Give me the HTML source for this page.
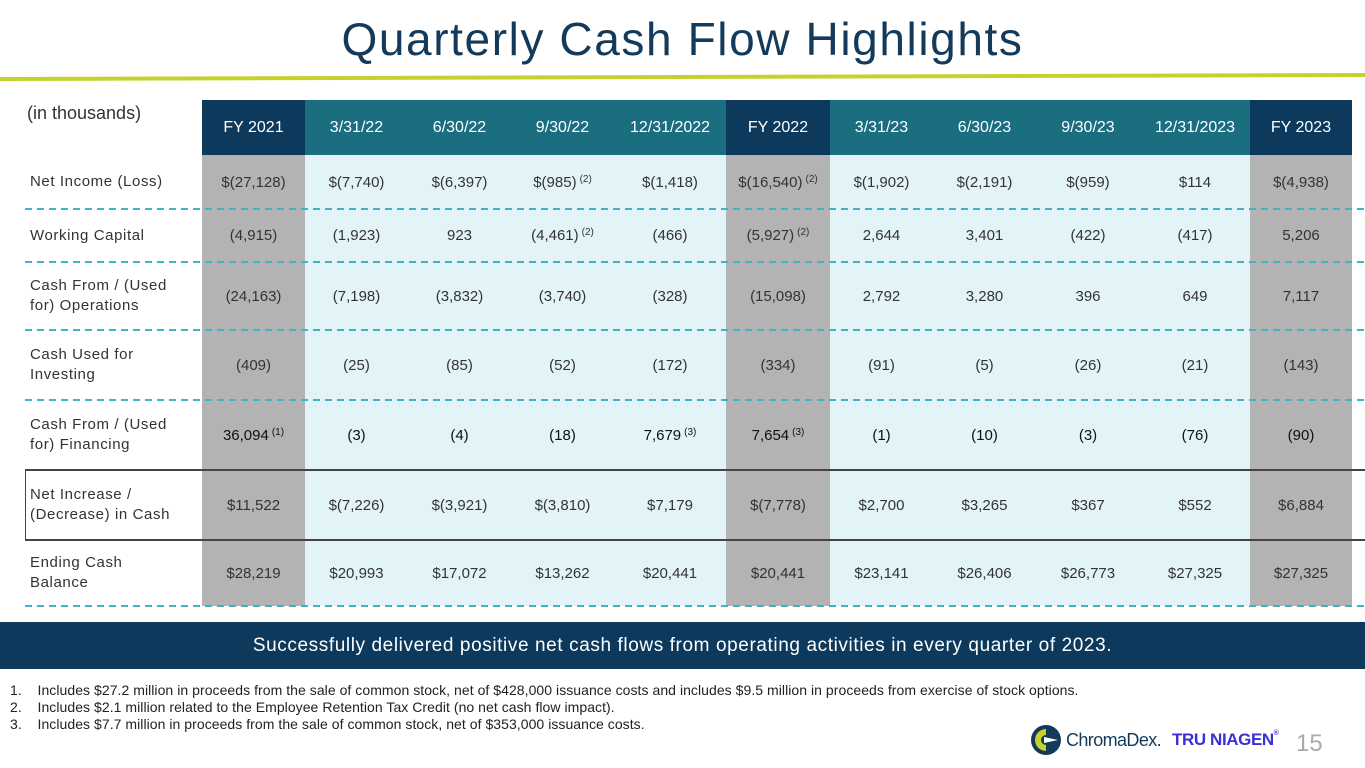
<!DOCTYPE html>
<html><head><meta charset="utf-8">
<style>
body{margin:0;width:1365px;height:768px;position:relative;overflow:hidden;background:#fff;font-family:"Liberation Sans",sans-serif;}
.a{position:absolute;}
.cell{position:absolute;display:flex;align-items:center;justify-content:center;font-size:15px;color:#333;box-sizing:border-box;}
.lab{position:absolute;display:flex;align-items:center;font-size:15px;color:#333;letter-spacing:0.6px;line-height:20px;padding-left:30px;box-sizing:border-box;}
sup{font-size:10px;vertical-align:top;position:relative;top:-3px;margin-left:3px;}
.hd{color:#fff;font-size:16px;}
</style></head><body>
<div class="a" style="left:0;width:1365px;top:12px;text-align:center;font-size:46px;letter-spacing:1.6px;color:#133a5a;">Quarterly Cash Flow Highlights</div>
<svg class="a" style="left:0;top:70px" width="1365" height="12"><polygon points="0,7 1365,3 1365,7 0,11" fill="#c5d22d"/></svg>
<div class="a" style="left:27px;top:103px;font-size:18px;color:#333;">(in thousands)</div>
<div id="tbl"></div>
<div class="a" style="left:0;top:622px;width:1365px;height:47px;background:#0d3a5c;color:#fff;font-size:19px;letter-spacing:0.6px;display:flex;align-items:center;justify-content:center;">Successfully delivered positive net cash flows from operating activities in every quarter of 2023.</div>
<div class="a" style="left:10px;top:682px;font-size:14px;color:#222;line-height:17px;letter-spacing:0.05px;white-space:nowrap;">
<div>1.&nbsp;&nbsp;&nbsp;&nbsp;Includes $27.2 million in proceeds from the sale of common stock, net of $428,000 issuance costs and includes $9.5 million in proceeds from exercise of stock options.</div>
<div>2.&nbsp;&nbsp;&nbsp;&nbsp;Includes $2.1 million related to the Employee Retention Tax Credit (no net cash flow impact).</div>
<div>3.&nbsp;&nbsp;&nbsp;&nbsp;Includes $7.7 million in proceeds from the sale of common stock, net of $353,000 issuance costs.</div>
</div>
<svg class="a" style="left:1030px;top:724px" width="32" height="32">
<circle cx="16" cy="16" r="15" fill="#133a5a"/><path d="M16 5 A11 11 0 1 0 16 27 L16 21 A5 5 0 1 1 16 11 Z" fill="#c5d22d"/><polygon points="14,13 28,16 14,19" fill="#fff"/></svg>
<div class="a" style="left:1066px;top:730px;font-size:18px;color:#133a5a;letter-spacing:-0.6px;">ChromaDex.</div>
<div class="a" style="left:1172px;top:730px;font-size:17px;font-weight:bold;color:#3b2fd6;letter-spacing:-0.4px;">TRU NIAGEN<span style="font-size:7px;vertical-align:top">®</span></div>
<div class="a" style="left:1296px;top:730px;font-size:24px;color:#aaa;">15</div>
<script>
const headers=["FY 2021","3/31/22","6/30/22","9/30/22","12/31/2022","FY 2022","3/31/23","6/30/23","9/30/23","12/31/2023","FY 2023"];
const rowLabels=["Net Income (Loss)","Working Capital","Cash From / (Used<br>for) Operations","Cash Used for<br>Investing","Cash From / (Used<br>for) Financing","Net Increase /<br>(Decrease) in Cash","Ending Cash<br>Balance"];
const netIncome=["$(27,128)","$(7,740)","$(6,397)","$(985)|(2)","$(1,418)","$(16,540)|(2)","$(1,902)","$(2,191)","$(959)","$114","$(4,938)"];
const workingCapital=["(4,915)","(1,923)","923","(4,461)|(2)","(466)","(5,927)|(2)","2,644","3,401","(422)","(417)","5,206"];
const operations=["(24,163)","(7,198)","(3,832)","(3,740)","(328)","(15,098)","2,792","3,280","396","649","7,117"];
const investing=["(409)","(25)","(85)","(52)","(172)","(334)","(91)","(5)","(26)","(21)","(143)"];
const financing=["36,094|(1)","(3)","(4)","(18)","7,679|(3)","7,654|(3)","(1)","(10)","(3)","(76)","(90)"];
const netIncrease=["$11,522","$(7,226)","$(3,921)","$(3,810)","$7,179","$(7,778)","$2,700","$3,265","$367","$552","$6,884"];
const endingCash=["$28,219","$20,993","$17,072","$13,262","$20,441","$20,441","$23,141","$26,406","$26,773","$27,325","$27,325"];
const rowsData=[netIncome,workingCapital,operations,investing,financing,netIncrease,endingCash];
const rowNames=["net-income","working-capital","cash-operations","cash-investing","cash-financing","net-increase","ending-cash"];
const fyCols=[0,5,10];
const colX=[202,305,408,511,614,726,830,933,1036,1140,1250,1352];
const rowY=[155,209,262,330,400,470,540,606];
const t=document.getElementById('tbl');
function add(el){t.appendChild(el);return el;}
headers.forEach((h,i)=>{
 const d=document.createElement('div');
 
 
 d.className='cell hd';
 d.style.cssText+=`left:${colX[i]}px;width:${colX[i+1]-colX[i]}px;top:100px;height:55px;background:${fyCols.includes(i)?'#0d3a5c':'#1a6e80'};`;
 d.textContent=h;add(d);
 const b=document.createElement('div');
 
 
 b.className='a';
 b.style.cssText=`left:${colX[i]}px;width:${colX[i+1]-colX[i]}px;top:155px;height:451px;background:${fyCols.includes(i)?'#b3b3b3':'#e3f4f9'};`;
 add(b);
});
rowsData.forEach((row,r)=>{
 const l=document.createElement('div');
 
 
 l.className='lab';
 l.style.cssText+=`left:0;width:202px;top:${rowY[r]}px;height:${rowY[r+1]-rowY[r]}px;`;
 l.innerHTML=rowLabels[r];add(l);
 row.forEach((v,i)=>{
  const c=document.createElement('div');
  
  
  c.className='cell';
  c.style.cssText+=`left:${colX[i]}px;width:${colX[i+1]-colX[i]}px;top:${rowY[r]}px;height:${rowY[r+1]-rowY[r]}px;${r==4?'color:#111;':''}`;
  const p=v.split('|');
  c.innerHTML=p[0]+(p[1]?'<sup>'+p[1]+'</sup>':'');
  add(c);
 });
});
rowY.slice(1).forEach((y,k)=>{
 const s=document.createElement('div');
 
 
 s.className='a';
 const solid=(k==4||k==5);
 s.style.cssText=solid?`left:25px;width:1340px;top:${y-1}px;height:2px;background:#444;`:`left:25px;width:1340px;top:${y-1}px;height:2px;background:repeating-linear-gradient(90deg,#3fb4c4 0 7px,transparent 7px 12px);`;
 add(s);
});
const bx=document.createElement('div');


bx.className='a';
bx.style.cssText='left:25px;top:470px;width:0;height:70px;border-left:1.5px solid #444;';
add(bx);
</script>
</body></html>
